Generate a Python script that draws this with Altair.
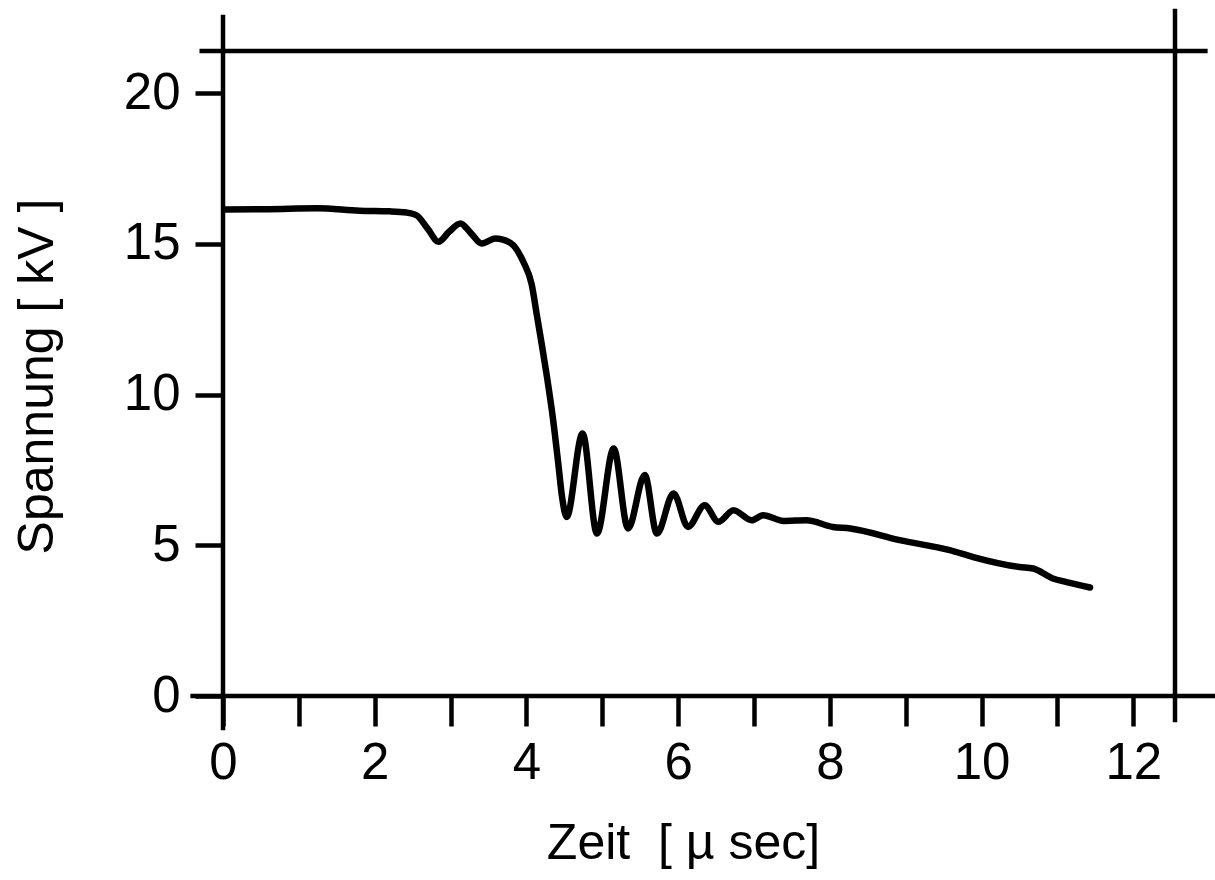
import altair as alt
import pandas as pd

# Curve values (time in µs, voltage in kV)
time_us = [0.03, 0.6, 1.24, 1.8, 2.2, 2.42, 2.55, 2.7, 2.84, 2.98, 3.13, 3.27, 3.41,
           3.59, 3.79, 3.96, 4.07, 4.14, 4.20, 4.27, 4.35, 4.42, 4.47, 4.53, 4.74,
           4.93, 5.15, 5.34, 5.56, 5.72, 5.94, 6.13, 6.35, 6.53, 6.73, 6.97, 7.12,
           7.39, 7.69, 8.04, 8.27, 8.92, 9.58, 9.89, 10.50, 10.68, 10.94, 11.12, 11.43]
voltage_kv = [16.14, 16.15, 16.18, 16.10, 16.08, 16.04, 15.95, 15.5, 15.07, 15.4, 15.68, 15.35, 15.01,
              15.18, 15.03, 14.40, 13.65, 12.6, 11.7, 10.6, 9.2, 7.71, 6.6, 5.94, 8.71,
              5.39, 8.21, 5.56, 7.33, 5.39, 6.72, 5.61, 6.33, 5.78, 6.16, 5.83, 6.0,
              5.81, 5.83, 5.61, 5.56, 5.17, 4.84, 4.61, 4.28, 4.23, 3.90, 3.78, 3.60]

x_ticks = list(range(13))
y_ticks = [0, 5, 10, 15, 20]

# Frame lines (data units), extending past the plot like the hand-drawn original
frame_x = [0.0, -0.31, -0.43, 12.55]
frame_x2 = [0.0, 12.98, 13.2, 12.55]
frame_y = [-1.14, 21.4, 0.0, -0.87]
frame_y2 = [22.6, 21.4, 0.0, 22.8]

X_DOMAIN = [0, 12.55]
Y_DOMAIN = [0, 21.4]
FONT = "Liberation Sans"

curve = pd.DataFrame({"t": time_us, "u": voltage_kv})
frame = pd.DataFrame({"x": frame_x, "x2": frame_x2, "y": frame_y, "y2": frame_y2})

xscale = alt.Scale(domain=X_DOMAIN, nice=False, zero=False)
yscale = alt.Scale(domain=Y_DOMAIN, nice=False, zero=False)

x_axis = alt.Axis(
    values=x_ticks,
    format="d",
    labelExpr="datum.value % 2 == 0 ? datum.label : ''",
    labelOverlap=False,
    labelFlush=False,
    domain=False, grid=False,
    tickSize=30, tickWidth=4.5, tickColor="black",
    labelFont=FONT, labelFontSize=51, labelColor="black", labelPadding=12,
    title="Zeit\u00a0\u00a0[\u00a0µ sec]",
    titleFont=FONT, titleFontSize=50, titleFontWeight="normal", titleColor="black",
    titleX=460, titleY=162, titleAlign="center", titleBaseline="alphabetic",
)
y_axis = alt.Axis(
    values=y_ticks,
    format="d",
    labelFlush=False,
    domain=False, grid=False,
    tickSize=28, tickWidth=4.5, tickColor="black",
    labelFont=FONT, labelFontSize=51, labelColor="black", labelPadding=15,
    title="Spannung [ kV ]",
    titleFont=FONT, titleFontSize=50, titleFontWeight="normal", titleColor="black",
    titleAngle=270, titleX=-171, titleY=325, titleAlign="center", titleBaseline="alphabetic",
)

frame_layer = alt.Chart(frame).mark_rule(color="black", strokeWidth=4.5).encode(
    x=alt.X("x:Q", scale=xscale, axis=x_axis),
    x2="x2:Q",
    y=alt.Y("y:Q", scale=yscale, axis=y_axis),
    y2="y2:Q",
)

line_layer = alt.Chart(curve).mark_line(
    color="black", strokeWidth=6.5, interpolate="monotone", strokeCap="round", strokeJoin="round"
).encode(
    x=alt.X("t:Q", scale=xscale),
    y=alt.Y("u:Q", scale=yscale),
)

chart = (
    alt.layer(frame_layer, line_layer)
    .properties(
        width=952,
        height=645,
        autosize=alt.AutoSizeParams(type="none"),
        padding={"left": 223, "top": 51, "right": 40, "bottom": 184},
        background="white",
    )
    .configure_view(strokeWidth=0)
)

chart.save("out.html", embed_options={"renderer": "svg", "actions": False})
